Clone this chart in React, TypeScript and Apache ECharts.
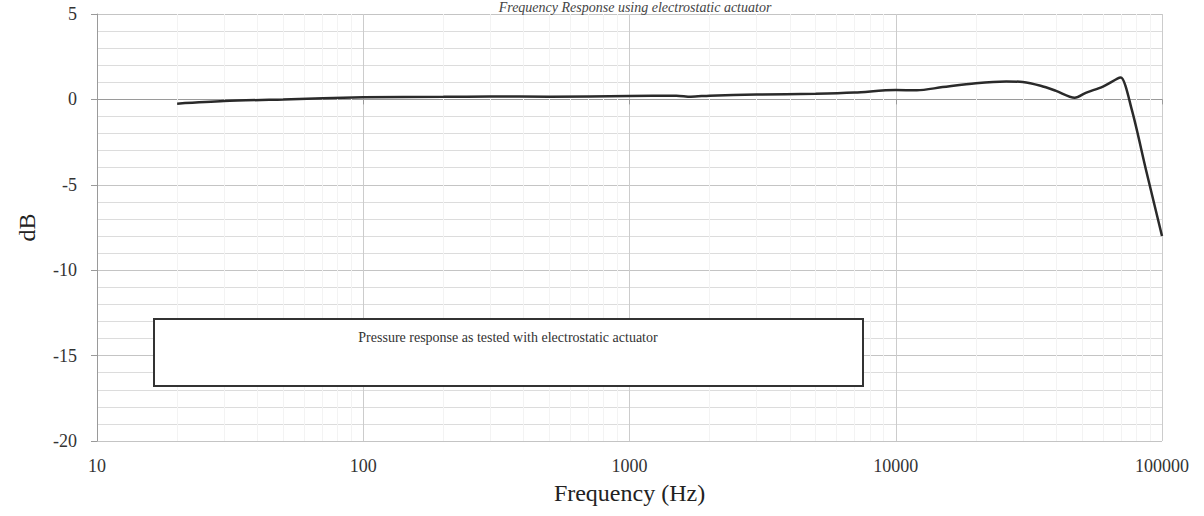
import React, { useEffect, useRef } from "react";
import * as echarts from "echarts";

const frequencies = [20, 30, 50, 100, 200, 300, 500, 1000, 1500, 1700, 2000, 3000, 5000, 7000, 10000, 12000, 15000, 20000, 26000, 30000, 35000, 40000, 47000, 52000, 60000, 68000, 70000, 77000, 87000, 100000];
const responseDb = [-0.25, -0.1, 0.0, 0.12, 0.15, 0.17, 0.16, 0.2, 0.22, 0.16, 0.22, 0.28, 0.33, 0.4, 0.55, 0.53, 0.72, 0.95, 1.05, 1.02, 0.8, 0.5, 0.1, 0.4, 0.75, 1.22, 1.28, -0.6, -4.1, -8.0];
const minorFreqs = [20, 30, 40, 50, 60, 70, 80, 90, 200, 300, 400, 500, 600, 700, 800, 900, 2000, 3000, 4000, 5000, 6000, 7000, 8000, 9000, 20000, 30000, 40000, 50000, 60000, 70000, 80000, 90000];
const titleText = "Frequency Response using electrostatic actuator";
const annotationText = "Pressure response as tested with electrostatic actuator";
const xAxisName = "Frequency (Hz)";
const yAxisName = "dB";

const SERIF = "Liberation Serif";

export default function App() {
  const ref = useRef<HTMLDivElement>(null);
  useEffect(() => {
    if (!ref.current) return;
    const chart = echarts.init(ref.current, null, { renderer: "svg" });
    chart.setOption({
      animation: false,
      backgroundColor: "#ffffff",
      textStyle: { fontFamily: SERIF },
      grid: { left: 97, right: 42, top: 14, bottom: 75 },
      xAxis: {
        type: "log",
        logBase: 10,
        min: 10,
        max: 100000,
        name: xAxisName,
        nameLocation: "middle",
        nameGap: 40,
        nameTextStyle: { fontFamily: SERIF, fontSize: 24, color: "#222" },
        axisLine: { show: true, lineStyle: { color: "#9a9a9a", width: 1 } },
        axisTick: { show: true, length: 5, lineStyle: { color: "#9a9a9a" } },
        axisLabel: {
          fontFamily: SERIF,
          fontSize: 18,
          color: "#333",
          margin: 16,
          formatter: (v: number) => String(Math.round(v)),
        },
        splitLine: { show: true, lineStyle: { color: "#cccccc", width: 1 } },
        minorTick: { show: false },
        minorSplitLine: { show: false },
      },
      yAxis: {
        type: "value",
        min: -20,
        max: 5,
        interval: 5,
        name: yAxisName,
        nameLocation: "middle",
        nameGap: 58,
        nameRotate: 90,
        nameTextStyle: { fontFamily: SERIF, fontSize: 24, color: "#222" },
        axisLine: { show: true, lineStyle: { color: "#9a9a9a", width: 1 } },
        axisTick: { show: true, length: 6, lineStyle: { color: "#9a9a9a" } },
        axisLabel: { fontFamily: SERIF, fontSize: 18, color: "#333", margin: 20 },
        splitLine: { show: true, lineStyle: { color: "#c4c4c4", width: 1 } },
        minorTick: { show: false, splitNumber: 5 },
        minorSplitLine: { show: true, lineStyle: { color: "#dcdcdc", width: 1 } },
      },
      series: [
        {
          type: "line",
          data: frequencies.map((f, i) => [f, responseDb[i]]),
          showSymbol: false,
          smooth: 0.3,
          lineStyle: { color: "#2a2a2a", width: 2.5 },
          z: 5,
          markLine: {
            silent: true,
            symbol: "none",
            label: { show: false },
            lineStyle: { color: "#f3f3f3", width: 1, type: "solid" },
            data: minorFreqs.map((v) => ({ xAxis: v })),
            z: 1,
          },
        },
      ],
      graphic: [
        {
          type: "text",
          x: 635,
          y: 0,
          style: {
            text: titleText,
            font: "italic 14px " + SERIF,
            fill: "#444",
            align: "center",
            verticalAlign: "top",
            backgroundColor: "#ffffff",
          },
          z: 12,
        },
        {
          type: "rect",
          shape: { x: 154, y: 319, width: 709, height: 67 },
          style: { fill: "#ffffff", stroke: "#333", lineWidth: 2 },
          z: 10,
        },
        {
          type: "text",
          x: 508,
          y: 330,
          style: {
            text: annotationText,
            font: "14px " + SERIF,
            fill: "#333",
            align: "center",
          },
          z: 11,
        },
      ],
    });
    return () => chart.dispose();
  }, []);
  return (
    <div
      ref={ref}
      style={{ position: "fixed", left: 0, top: 0, width: 1204, height: 516, background: "#fff" }}
    />
  );
}
